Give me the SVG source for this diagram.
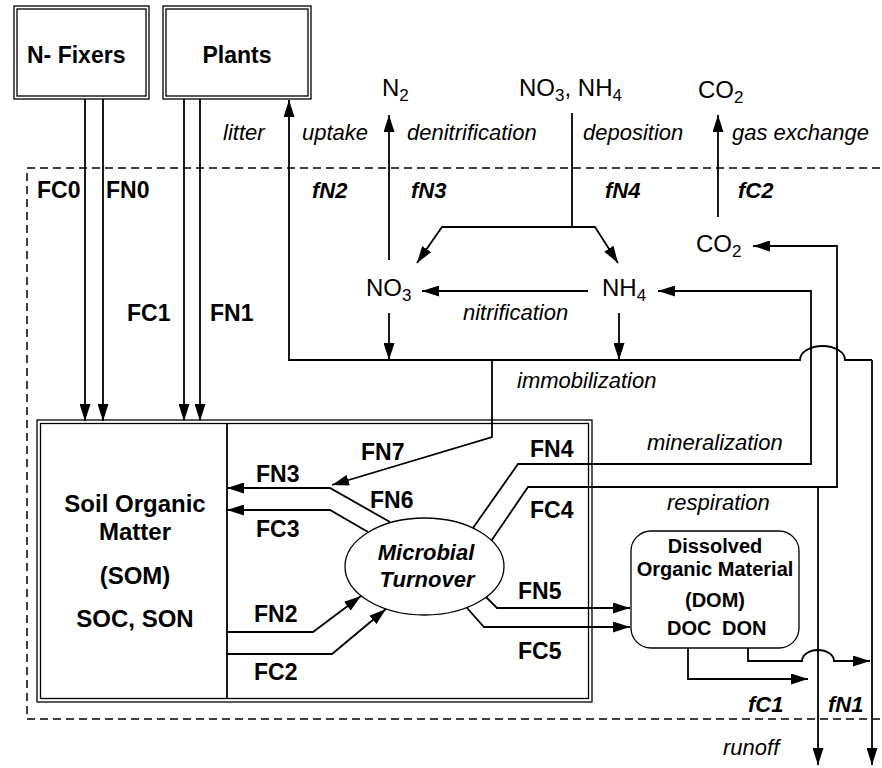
<svg xmlns="http://www.w3.org/2000/svg" width="882" height="768" viewBox="0 0 882 768">
<style>
text{font-family:"Liberation Sans",Arial,Helvetica,sans-serif;fill:#000}
.b{font-weight:bold;font-size:23px}
.bi{font-weight:bold;font-style:italic;font-size:22px}
.it{font-style:italic;font-size:22px}
.ch{font-size:24px}
.som{font-weight:bold;font-size:24px}
.dom{font-weight:bold;font-size:20px}
.box{fill:#fff;stroke:#000;stroke-width:1.3}
.c{fill:none;stroke:#000;stroke-width:1.8}
.a{marker-end:url(#ah)}
.dash{fill:none;stroke:#000;stroke-width:1.5;stroke-dasharray:8 5}
</style>
<defs>
<marker id="ah" markerUnits="userSpaceOnUse" markerWidth="17" markerHeight="11" refX="17" refY="5.5" orient="auto">
<path d="M0,0 L17,5.5 L0,11 z" fill="#000"/>
</marker>
</defs>
<rect width="882" height="768" fill="#fff"/>

<path class="dash" d="M880,168 H27 V719 H880"/>

<g id="nfixers">
<rect class="box" x="14" y="6" width="135" height="93"/>
<rect class="box" x="17" y="9" width="129" height="87"/>
<text class="b" x="27" y="63">N- Fixers</text>
</g>
<g id="plants">
<rect class="box" x="163" y="6" width="148" height="93"/>
<rect class="box" x="166" y="9" width="142" height="87"/>
<text class="b" x="237" y="63" text-anchor="middle">Plants</text>
</g>

<g id="som">
<rect class="box" x="37" y="420" width="555" height="282"/>
<rect class="box" x="40.5" y="423.5" width="548" height="275"/>
<path d="M227,423 V699" stroke="#000" stroke-width="1.8"/>
<text class="som" x="135" y="512" text-anchor="middle">Soil Organic</text>
<text class="som" x="135" y="540" text-anchor="middle">Matter</text>
<text class="som" x="135" y="584" text-anchor="middle">(SOM)</text>
<text class="som" x="135" y="627" text-anchor="middle">SOC, SON</text>
</g>

<g id="microbial">
<ellipse class="box" cx="424.5" cy="566.5" rx="79.5" ry="48.5"/>
<text class="bi" x="426" y="560" text-anchor="middle">Microbial</text>
<text class="bi" x="427" y="587" text-anchor="middle">Turnover</text>
</g>

<g id="dom">
<rect class="box" x="631" y="531" width="168" height="117" rx="20"/>
<text class="dom" x="715" y="553" text-anchor="middle">Dissolved</text>
<text class="dom" x="715" y="576" text-anchor="middle">Organic Material</text>
<text class="dom" x="715" y="607" text-anchor="middle">(DOM)</text>
<text class="dom" x="667" y="635">DOC</text>
<text class="dom" x="722" y="635">DON</text>
</g>

<g id="pools">
<text class="ch" x="382" y="96">N<tspan dy="5" font-size="17">2</tspan></text>
<text class="ch" x="519" y="96">NO<tspan dy="5" font-size="17">3</tspan><tspan dy="-5">, NH</tspan><tspan dy="5" font-size="17">4</tspan></text>
<text class="ch" x="698" y="98">CO<tspan dy="5" font-size="17">2</tspan></text>
<text class="ch" x="696" y="252">CO<tspan dy="5" font-size="17">2</tspan></text>
<text class="ch" x="366" y="296">NO<tspan dy="5" font-size="17">3</tspan></text>
<text class="ch" x="602" y="296">NH<tspan dy="5" font-size="17">4</tspan></text>
</g>

<g id="connectors">
<path class="c a" d="M85,99 V421"/>
<path class="c a" d="M103,99 V421"/>
<path class="c a" d="M184,99 V421"/>
<path class="c a" d="M200,99 V421"/>
<path class="c a" d="M872,360 H845 A22.5,14 0 0 0 800,360 H289 V100"/>
<path class="c a" d="M872,360 V765"/>
<path class="c a" d="M389,260 V115"/>
<path class="c" d="M572,113 V227"/>
<path class="c a" d="M572,227 H442 L417,263"/>
<path class="c a" d="M572,227 H595 L618,263"/>
<path class="c a" d="M718,217 V115"/>
<path class="c a" d="M588,291 H422"/>
<path class="c a" d="M389,313 V360"/>
<path class="c a" d="M619,313 V360"/>
<path class="c a" d="M473,528 L518,464 H811 V291 H658"/>
<path class="c a" d="M491.5,540.5 L528,487 H837 V246 H753"/>
<path class="c a" d="M818,487 V765"/>
<path class="c a" d="M492,360 V437 L332,485"/>
<path class="c a" d="M390,522 L330,488 H227"/>
<path class="c a" d="M368,532 L330,510 H227"/>
<path class="c a" d="M486,597 L497,608 H630"/>
<path class="c a" d="M467,608 L484,627 H630"/>
<path class="c a" d="M227,632 H313 L361,596"/>
<path class="c a" d="M227,654 H332 L386,609"/>
<path class="c a" d="M688,648 V679 H808"/>
<path class="c a" d="M748,648 V661 H802 A16,11 0 0 1 834,661 H870"/>
</g>

<g id="labels">
<text class="it" x="223" y="140">litter</text>
<text class="it" x="302" y="140">uptake</text>
<text class="it" x="407" y="140">denitrification</text>
<text class="it" x="583" y="140">deposition</text>
<text class="it" x="732" y="140">gas exchange</text>
<text class="it" x="463" y="320">nitrification</text>
<text class="it" x="517" y="388">immobilization</text>
<text class="it" x="647" y="450">mineralization</text>
<text class="it" x="667" y="510">respiration</text>
<text class="it" x="723" y="755">runoff</text>
<text class="bi" x="312" y="198">fN2</text>
<text class="bi" x="411" y="198">fN3</text>
<text class="bi" x="605" y="198">fN4</text>
<text class="bi" x="738" y="198">fC2</text>
<text class="bi" x="748" y="712">fC1</text>
<text class="bi" x="828" y="712">fN1</text>
<text class="b" x="37" y="198">FC0</text>
<text class="b" x="106" y="198">FN0</text>
<text class="b" x="127" y="321">FC1</text>
<text class="b" x="210" y="321">FN1</text>
<text class="b" x="361" y="460">FN7</text>
<text class="b" x="530" y="457">FN4</text>
<text class="b" x="256" y="482">FN3</text>
<text class="b" x="370" y="508">FN6</text>
<text class="b" x="256" y="537">FC3</text>
<text class="b" x="530" y="518">FC4</text>
<text class="b" x="518" y="599">FN5</text>
<text class="b" x="254" y="622">FN2</text>
<text class="b" x="518" y="659">FC5</text>
<text class="b" x="254" y="680">FC2</text>
</g>
</svg>
